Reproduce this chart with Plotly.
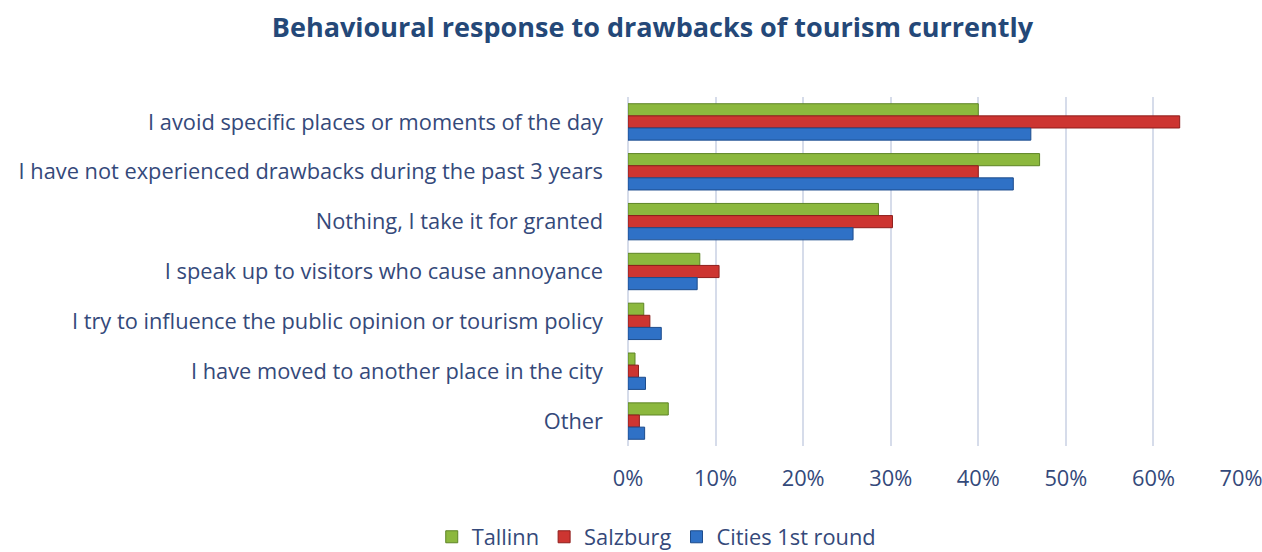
import plotly.graph_objects as go

categories = [
    "I avoid specific places or moments of the day",
    "I have not experienced drawbacks during the past 3 years",
    "Nothing, I take it for granted",
    "I speak up to visitors who cause annoyance",
    "I try to influence the public opinion or tourism policy",
    "I have moved to another place in the city",
    "Other",
]
tallinn = [40.0, 47.0, 28.6, 8.2, 1.8, 0.8, 4.6]
salzburg = [63.0, 40.0, 30.2, 10.4, 2.5, 1.2, 1.3]
cities_1st_round = [46.0, 44.0, 25.7, 7.9, 3.8, 2.0, 1.9]
x_ticks = [0, 10, 20, 30, 40, 50, 60, 70]
x_tick_labels = ["0%", "10%", "20%", "30%", "40%", "50%", "60%", "70%"]

series = [
    ("Tallinn", tallinn, "#8CB83E", "#5E8526"),
    ("Salzburg", salzburg, "#CD3531", "#8E1E1C"),
    ("Cities 1st round", cities_1st_round, "#2F71C6", "#1D4C8C"),
]

text_color = "#34497A"
font_family = "'Open Sans', Lato, sans-serif"
label_size = 21.8

fig = go.Figure()
for name, values, color, edge in series:
    fig.add_trace(go.Bar(
        y=categories,
        x=values,
        name=name,
        orientation="h",
        marker=dict(color=color, line=dict(color=edge, width=1)),
        hovertemplate="%{y}: %{x}%<extra>" + name + "</extra>",
    ))

fig.update_layout(
    width=1262,
    height=552,
    paper_bgcolor="white",
    plot_bgcolor="white",
    barmode="group",
    bargap=0.27,
    bargroupgap=0.0,
    margin=dict(l=628, r=21, t=97, b=106),
    font=dict(family=font_family, color=text_color, size=label_size),
    title=dict(
        text="<b>Behavioural response to drawbacks of tourism currently</b>",
        x=0.517,
        xanchor="center",
        y=0.95,
        yanchor="middle",
        font=dict(size=27, color="#244878", family=font_family),
    ),
    xaxis=dict(
        range=[0, 70],
        tickvals=x_ticks,
        ticktext=x_tick_labels,
        automargin=False,
        ticklabeloverflow="allow",
        showgrid=True,
        gridcolor="#D6DCEA",
        gridwidth=1.5,
        zeroline=True,
        zerolinecolor="#D6DCEA",
        zerolinewidth=1.5,
        ticks="",
        ticklabelstandoff=17,
        tickfont=dict(size=label_size, color=text_color),
    ),
    yaxis=dict(
        autorange="reversed",
        automargin=False,
        showgrid=False,
        ticks="",
        ticklabelstandoff=24,
        tickfont=dict(size=label_size, color=text_color),
    ),
    legend=dict(
        orientation="h",
        xref="container",
        x=0.52,
        xanchor="center",
        yref="container",
        y=0.027,
        yanchor="middle",
        font=dict(size=label_size, color=text_color),
        itemwidth=30,
        traceorder="normal",
    ),
)

fig.write_html("out.html")
